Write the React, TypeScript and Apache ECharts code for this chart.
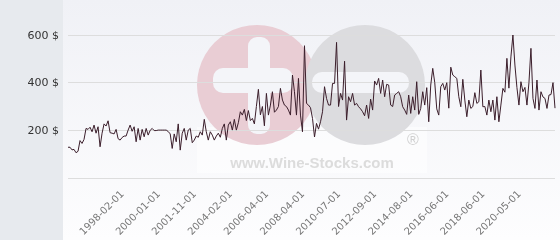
import { useEffect, useRef } from 'react';
import * as echarts from 'echarts';

const values: number[] = [
  129, 129, 118, 120, 106, 112, 157, 145, 162, 208,
  204, 213, 194, 222, 188, 215, 131, 188, 227, 218,
  240, 190, 188, 185, 204, 165, 159, 170, 176, 176,
  201, 222, 196, 215, 152, 208, 159, 204, 173, 208,
  180, 200, 208, 199, 199, 201, 201, 201, 201,
  201, 195, 185, 124, 185, 152, 227, 117, 188, 208,
  159, 201, 208, 148, 159, 176, 171, 194, 180, 246,
  194, 159, 194, 180, 159, 176, 188, 171, 208, 227,
  159, 222, 236, 201, 246, 201, 232, 278, 264, 288,
  241, 283, 241, 250, 227, 300, 372,
  265, 300, 219, 355, 264, 306, 362, 276, 285, 300,
  376, 327, 306, 300, 285, 264, 432, 362, 264, 418,
  264, 194, 555, 313, 306, 295, 250, 172, 229, 205,
  236, 278, 383, 334, 306, 306, 397, 397, 569, 300,
  355, 327, 490, 243, 341, 320, 355, 306,
  313, 299, 290, 278, 261, 306, 250, 331, 285, 407,
  390, 418, 355, 411, 341, 393, 390, 306, 300, 348,
  355, 362, 341, 299, 285, 267, 348, 271, 341, 285,
  404, 267, 292, 362, 306, 379, 236, 390, 460, 400,
  290, 264, 383, 397, 369, 400, 293, 465,
  432, 425, 418, 341, 299, 414, 327, 257, 327, 292,
  300, 358, 313, 320, 453, 299, 300, 264, 327, 278,
  327, 243, 341, 236, 306, 376, 360, 502, 377, 508,
  600, 474, 380, 306, 404, 362, 380, 306, 400, 544,
  334, 292, 411, 285, 362, 340, 334, 292, 348, 350,
  400, 293,
];

const tickLabels: string[] = [
  '1998-02-01', '2000-01-01', '2001-11-01', '2004-02-01', '2006-04-01', '2008-04-01',
  '2010-07-01', '2012-09-01', '2014-08-01', '2016-06-01', '2018-06-01', '2020-05-01',
];
const tickIndex: number[] = [27, 45, 63, 81, 99, 117, 135, 153, 171, 189, 207, 225];

const yMin = 0;
const yMax = 600;
const yStep = 200;

const categories = values.map((_, i) => {
  const k = tickIndex.indexOf(i);
  return k >= 0 ? tickLabels[k] : `#${i}`;
});

export default function App() {
  const ref = useRef<HTMLDivElement>(null);
  useEffect(() => {
    if (!ref.current) return;
    const chart = echarts.init(ref.current, null, { renderer: 'svg' });
    const bgWhite = '#f4f5f9';
    chart.setOption({
      animation: false,
      grid: { left: 68, right: 5, top: 35, bottom: 62 },
      xAxis: {
        type: 'category',
        data: categories,
        boundaryGap: false,
        axisLine: { show: false },
        axisTick: { show: false },
        splitLine: { show: false },
        axisLabel: {
          interval: (_i: number, v: string) => tickLabels.includes(v),
          rotate: 45,
          margin: 14,
          color: '#777777',
          fontSize: 10,
          fontFamily: 'DejaVu Sans',
        },
      },
      yAxis: {
        type: 'value',
        min: yMin,
        max: yMax,
        interval: yStep,
        axisLine: { show: false },
        axisTick: { show: false },
        axisLabel: {
          formatter: (v: number) => (v === 0 ? '' : `${v} $`),
          color: '#333333',
          fontSize: 11,
          fontFamily: 'DejaVu Sans',
          margin: 9,
        },
        splitLine: { lineStyle: { color: '#dddddd', width: 1 } },
      },
      series: [
        {
          type: 'line',
          data: values,
          showSymbol: false,
          symbol: 'none',
          lineStyle: { color: '#3b1e2b', width: 1 },
          z: 5,
        },
      ],
      graphic: [
        {
          type: 'rect', z: -20, silent: true,
          shape: { x: 63, y: 0, width: 497, height: 240 },
          style: {
            fill: new echarts.graphic.LinearGradient(0, 0, 0, 1, [
              { offset: 0, color: '#f0f1f6' },
              { offset: 1, color: '#fdfdfe' },
            ]),
          },
        },
        {
          type: 'rect', z: -20, silent: true,
          shape: { x: 0, y: 0, width: 63, height: 240 },
          style: { fill: '#e7eaee' },
        },
        {
          type: 'rect', z: -19, silent: true,
          shape: { x: 197, y: 127, width: 230, height: 46 },
          style: { fill: 'rgba(255,255,255,0.55)' },
        },
        {
          type: 'circle', z: -18, silent: true,
          shape: { cx: 257, cy: 85, r: 60 },
          style: { fill: '#e9cdd4' },
        },
        {
          type: 'circle', z: -18, silent: true,
          shape: { cx: 365, cy: 85, r: 60 },
          style: { fill: '#dcdcdf' },
        },
        {
          type: 'rect', z: -17, silent: true,
          shape: { x: 248, y: 37, width: 22, height: 97, r: 9 },
          style: { fill: bgWhite },
        },
        {
          type: 'rect', z: -17, silent: true,
          shape: { x: 213, y: 68, width: 80, height: 25, r: 10 },
          style: { fill: bgWhite },
        },
        {
          type: 'rect', z: -17, silent: true,
          shape: { x: 312, y: 72, width: 97, height: 21, r: 10 },
          style: { fill: bgWhite },
        },
        {
          type: 'text', z: -16, silent: true,
          x: 312, y: 162,
          style: {
            text: 'www.Wine-Stocks.com',
            fill: '#dcdcdc',
            font: 'bold 15px "Liberation Sans"',
            align: 'center',
            verticalAlign: 'middle',
          },
        },
        {
          type: 'text', z: -16, silent: true,
          x: 413, y: 139,
          style: {
            text: '®',
            fill: '#d0d0d0',
            font: '16px "Liberation Sans"',
            align: 'center',
            verticalAlign: 'middle',
          },
        },
      ],
    });
    return () => chart.dispose();
  }, []);
  return (
    <div
      ref={ref}
      style={{ position: 'fixed', left: 0, top: 0, width: 560, height: 240 }}
    />
  );
}
